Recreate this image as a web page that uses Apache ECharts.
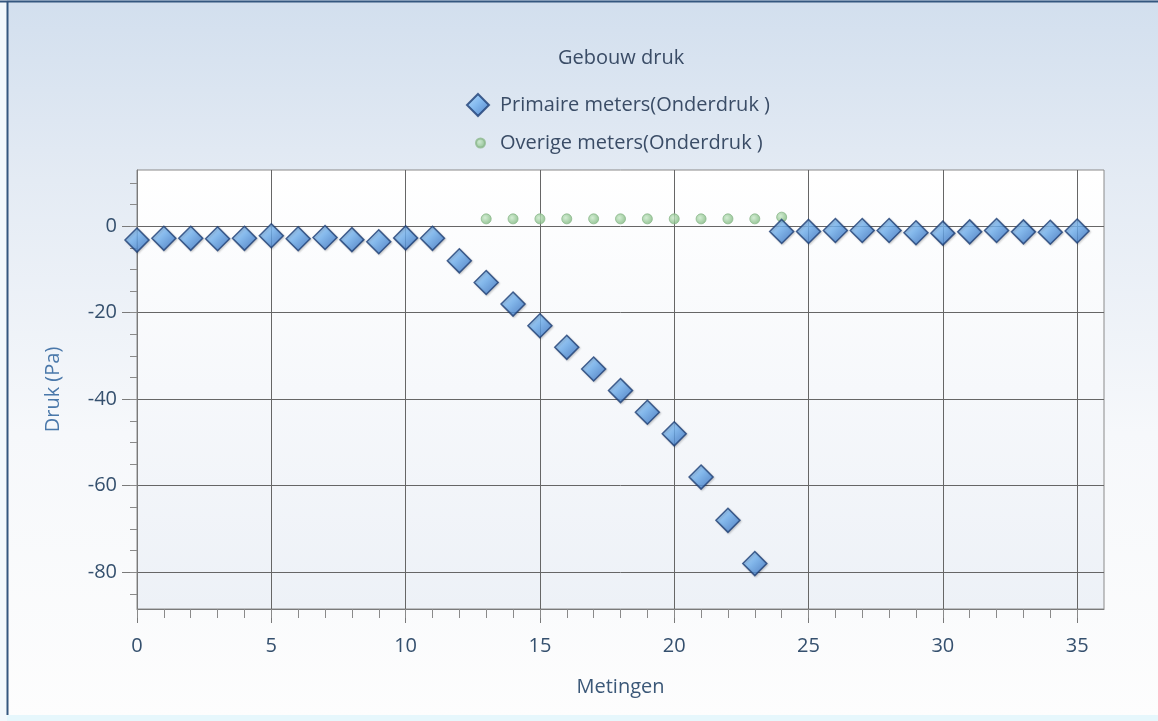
<!DOCTYPE html>
<html>
<head>
<meta charset="utf-8">
<script src="https://cdn.jsdelivr.net/npm/echarts@6/dist/echarts.min.js"></script>
<style>
html,body{margin:0;padding:0;background:#ffffff;}
#chart{width:1158px;height:721px;}
</style>
</head>
<body>
<div id="chart"></div>
<script>
// ---- data ----
var metingen = [0,1,2,3,4,5,6,7,8,9,10,11,12,13,14,15,16,17,18,19,20,21,22,23,24,25,26,27,28,29,30,31,32,33,34,35];
var primaire = [-3.2,-2.8,-2.8,-2.9,-2.8,-2.2,-2.9,-2.6,-3.1,-3.6,-2.7,-2.8,-8,-13,-18,-23,-28,-33,-38,-43,-48,-58,-68,-78,-1.2,-1.2,-1,-1,-1,-1.5,-1.6,-1.3,-1,-1.3,-1.4,-1.1];
var overigeX = [13,14,15,16,17,18,19,20,21,22,23,24];
var overige = [1.7,1.7,1.7,1.7,1.7,1.7,1.7,1.7,1.7,1.7,1.7,2.1];
var xTicks = [0,5,10,15,20,25,30,35];
var xMinorTicks = [0,1,2,3,4,5,6,7,8,9,10,11,12,13,14,15,16,17,18,19,20,21,22,23,24,25,26,27,28,29,30,31,32,33,34,35];
var yTicks = [-80,-60,-40,-20,0];
var yMinorTicks = [-85,-80,-75,-70,-65,-60,-55,-50,-45,-40,-35,-30,-25,-20,-15,-10,-5,0,5,10];
var nameP = 'Primaire meters(Onderdruk )';
var nameO = 'Overige meters(Onderdruk )';

var FONT = '"Open Sans", "Noto Sans", sans-serif';
var FS = 20;
var chart = echarts.init(document.getElementById('chart'), null, {renderer:'canvas'});

var diamondFill = new echarts.graphic.LinearGradient(0,0,1,1,[
  {offset:0,color:'#b4dcff'},{offset:0.45,color:'#6fb0f0'},{offset:1,color:'#2c64b8'}
]);
var greenFill = new echarts.graphic.RadialGradient(0.4,0.4,0.6,[
  {offset:0,color:'#c8e8c8'},{offset:1,color:'#7db87d'}
]);

var xMin = 0, xMax = 36, yMin = -88.5, yMax = 13;

chart.setOption({
  animation:false,
  backgroundColor: new echarts.graphic.LinearGradient(0,0,0,1,[
    {offset:0,color:'#d2dfee'},{offset:0.25,color:'#e4ebf4'},{offset:0.6,color:'#f6f8fb'},{offset:1,color:'#fdfdfd'}
  ]),
  graphic:[
    {type:'rect', shape:{x:0,y:715,width:1158,height:6}, style:{fill:'#e6f7fc'}, z:-1},
    {type:'rect', shape:{x:0,y:0,width:7,height:721}, style:{fill:'#f2f8fc'}, z:-1},
    {type:'line', shape:{x1:0,y1:1.5,x2:1158,y2:1.5}, style:{stroke:'#34577f',lineWidth:2}},
    {type:'line', shape:{x1:7.5,y1:1,x2:7.5,y2:715}, style:{stroke:'#34577f',lineWidth:2}}
  ],
  title:{
    text:'Gebouw druk', left:553, top:43,
    textStyle:{fontFamily:FONT,fontSize:FS,fontWeight:'normal',color:'#3a4c66'}
  },
  legend:[
    {orient:'vertical', left:461, top:88, itemWidth:22, itemHeight:22, itemGap:0,
     data:[{name:nameP, icon:'diamond'}],
     textStyle:{fontFamily:FONT,fontSize:FS,color:'#3a4c66',padding:[0,0,0,6]}},
    {orient:'vertical', left:470, top:128, itemWidth:9, itemHeight:9, itemGap:0,
     data:[{name:nameO, icon:'circle'}],
     textStyle:{fontFamily:FONT,fontSize:FS,color:'#3a4c66',padding:[0,0,0,10]}}
  ],
  grid:{
    left:137, right:54, top:170, bottom:112, show:true,
    backgroundColor: new echarts.graphic.LinearGradient(0,0,0,1,[
      {offset:0,color:'#ffffff'},{offset:1,color:'#edf1f7'}
    ]),
    borderColor:'#8a8a8a', borderWidth:1
  },
  xAxis:[
    {type:'value', min:xMin, max:xMax, interval:5,
     name:'Metingen', nameLocation:'middle', nameGap:68,
     nameTextStyle:{fontFamily:FONT,fontSize:FS,color:'#3b5878'},
     axisLine:{show:true,onZero:false,lineStyle:{color:'#7a7a7a'}},
     axisTick:{show:true,length:14,lineStyle:{color:'#7a7a7a'},customValues:xTicks},
     axisLabel:{margin:27,fontFamily:FONT,fontSize:FS,color:'#35506e',customValues:xTicks},
     splitLine:{show:true,lineStyle:{color:'#666666',width:1}}
    },
    {type:'value', min:xMin, max:xMax, position:'bottom',
     axisLine:{show:false,onZero:false},
     axisTick:{show:true,length:9,lineStyle:{color:'#8a8a8a'},customValues:xMinorTicks},
     axisLabel:{show:false},
     splitLine:{show:false}
    }
  ],
  yAxis:[
    {type:'value', min:yMin, max:yMax,
     name:'Druk (Pa)', nameLocation:'middle', nameGap:74, nameRotate:90,
     nameTextStyle:{fontFamily:FONT,fontSize:FS,color:'#4a78aa'},
     axisLine:{show:true,onZero:false,lineStyle:{color:'#7a7a7a'}},
     axisTick:{show:true,length:15,lineStyle:{color:'#7a7a7a'},customValues:yTicks},
     axisLabel:{margin:20,fontFamily:FONT,fontSize:FS,color:'#35506e',customValues:yTicks},
     splitLine:{show:true,lineStyle:{color:'#666666',width:1}}
    },
    {type:'value', min:yMin, max:yMax, position:'left',
     axisLine:{show:false,onZero:false},
     axisTick:{show:true,length:7,lineStyle:{color:'#8a8a8a'},customValues:yMinorTicks},
     axisLabel:{show:false},
     splitLine:{show:false}
    }
  ],
  series:[
    {name:nameO, type:'scatter', xAxisIndex:0, yAxisIndex:0, z:2,
     symbol:'circle', symbolSize:10,
     itemStyle:{color:greenFill, borderColor:'#8cb88c', borderWidth:1},
     data: overigeX.map(function(x,i){return [x, overige[i]];})
    },
    {name:nameP, type:'scatter', xAxisIndex:0, yAxisIndex:0, z:3,
     symbol:'diamond', symbolSize:[24,24],
     itemStyle:{color:diamondFill, borderColor:'#1d3d74', borderWidth:1.5,
       shadowColor:'rgba(0,0,0,0.2)', shadowBlur:2, shadowOffsetX:1, shadowOffsetY:1},
     data: metingen.map(function(x,i){return [x, primaire[i]];})
    }
  ]
});
</script>
</body>
</html>
